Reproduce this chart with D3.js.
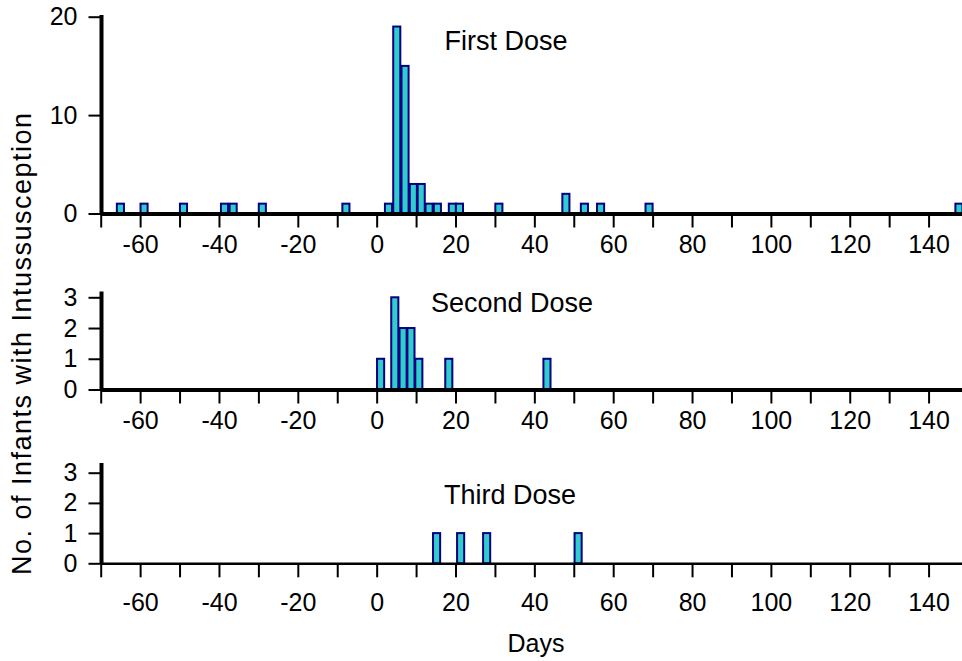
<!DOCTYPE html>
<html>
<head>
<meta charset="utf-8">
<script src="https://cdn.jsdelivr.net/npm/d3@7"></script>
<style>
  body { margin: 0; background: #fff; }
  svg { display: block; font-family: Arial, "Liberation Sans", sans-serif; }
</style>
</head>
<body>
<script>
// days after each dose (bar centre) and number of infants
var firstDays   = [-65, -59, -49, -38.6, -36.4, -29, -7.8, 3, 5.1, 7.2, 9.3, 11.3, 13.3, 15.4, 19.2, 21, 31, 48, 52.7, 56.8, 69.1, 147.7];
var firstCounts = [1, 1, 1, 1, 1, 1, 1, 1, 19, 15, 3, 3, 1, 1, 1, 1, 1, 2, 1, 1, 1, 1];

var secondDays   = [1, 4.6, 6.7, 8.7, 10.7, 18.3, 43.2];
var secondCounts = [1, 3, 2, 2, 1, 1, 1];

var thirdDays   = [15.2, 21.3, 27.9, 51.1];
var thirdCounts = [1, 1, 1, 1];

var xTickLabels = [-60, -40, -20, 0, 20, 40, 60, 80, 100, 120, 140];
var firstYTicks = [0, 10, 20];
var smallYTicks = [0, 1, 2, 3];

var svg = d3.select('body').append('svg')
   .attr("width", 962)
   .attr("height", 661);

var x = d3.scaleLinear().domain([-70, 150]).range([100.7, 968]);
var barW = 1.8;

function drawPanel(days, counts, yTicks, yTop, y0, yTopPx, title, titleX, titleY, xLineW, xPad) {
  var y = d3.scaleLinear().domain([0, yTicks[yTicks.length - 1]]).range([y0, yTop]);
  var g = svg.append("g");

  var data = days.map(function(d, i) { return { day: d, n: counts[i] }; });

  g.selectAll("rect")
    .data(data)
    .enter()
    .append("rect")
    .attr("x", function(d) { return x(d.day - barW / 2); })
    .attr("width", function(d) { return x(d.day + barW / 2) - x(d.day - barW / 2); })
    .attr("y", function(d) { return y(d.n); })
    .attr("height", function(d) { return y(0) - y(d.n); })
    .attr("fill", "#33cccc")
    .attr("stroke", "#000080")
    .attr("stroke-width", 2);

  // x axis
  var xAxis = d3.axisBottom(x)
    .tickValues(d3.range(-70, 150, 10))
    .tickSize(14)
    .tickSizeOuter(0)
    .tickPadding(xPad)
    .tickFormat(function(d) { return xTickLabels.indexOf(d) >= 0 ? d : ""; });

  var gx = g.append("g")
    .attr("transform", "translate(0," + y0 + ")")
    .call(xAxis);
  gx.select(".domain").attr("stroke-width", xLineW);
  gx.selectAll(".tick line").attr("stroke-width", 2);
  gx.selectAll("text").attr("font-size", 25).attr("fill", "#000");

  // y axis
  var yAxis = d3.axisLeft(y)
    .tickValues(yTicks)
    .tickFormat(d3.format("d"))
    .tickSize(13)
    .tickSizeOuter(0)
    .tickPadding(11);

  var gy = g.append("g")
    .attr("transform", "translate(101.5,0)")
    .call(yAxis);
  gy.select(".domain").attr("d", "M0," + yTopPx + "V" + y0).attr("stroke-width", 4);
  gy.selectAll(".tick line").attr("stroke-width", 2);
  gy.selectAll("text").attr("font-size", 25).attr("fill", "#000");

  g.append("text")
    .attr("x", titleX)
    .attr("y", titleY)
    .attr("text-anchor", "middle")
    .attr("font-size", 27)
    .text(title);
}

drawPanel(firstDays, firstCounts, firstYTicks, 16.7, 213.5, 15, "First Dose", 506, 50, 4, 8);
drawPanel(secondDays, secondCounts, smallYTicks, 297.3, 389.5, 291.5, "Second Dose", 512, 312, 4, 8);
drawPanel(thirdDays, thirdCounts, smallYTicks, 472.7, 563.3, 463, "Third Dose", 510, 504, 2.5, 16);

svg.append("text")
  .attr("transform", "translate(31,344) rotate(-90)")
  .attr("text-anchor", "middle")
  .attr("font-size", 27)
  .attr("textLength", 462)
  .attr("lengthAdjust", "spacing")
  .text("No. of Infants with Intussusception");

svg.append("text")
  .attr("x", 536)
  .attr("y", 652)
  .attr("text-anchor", "middle")
  .attr("font-size", 25)
  .text("Days");
</script>
</body>
</html>
